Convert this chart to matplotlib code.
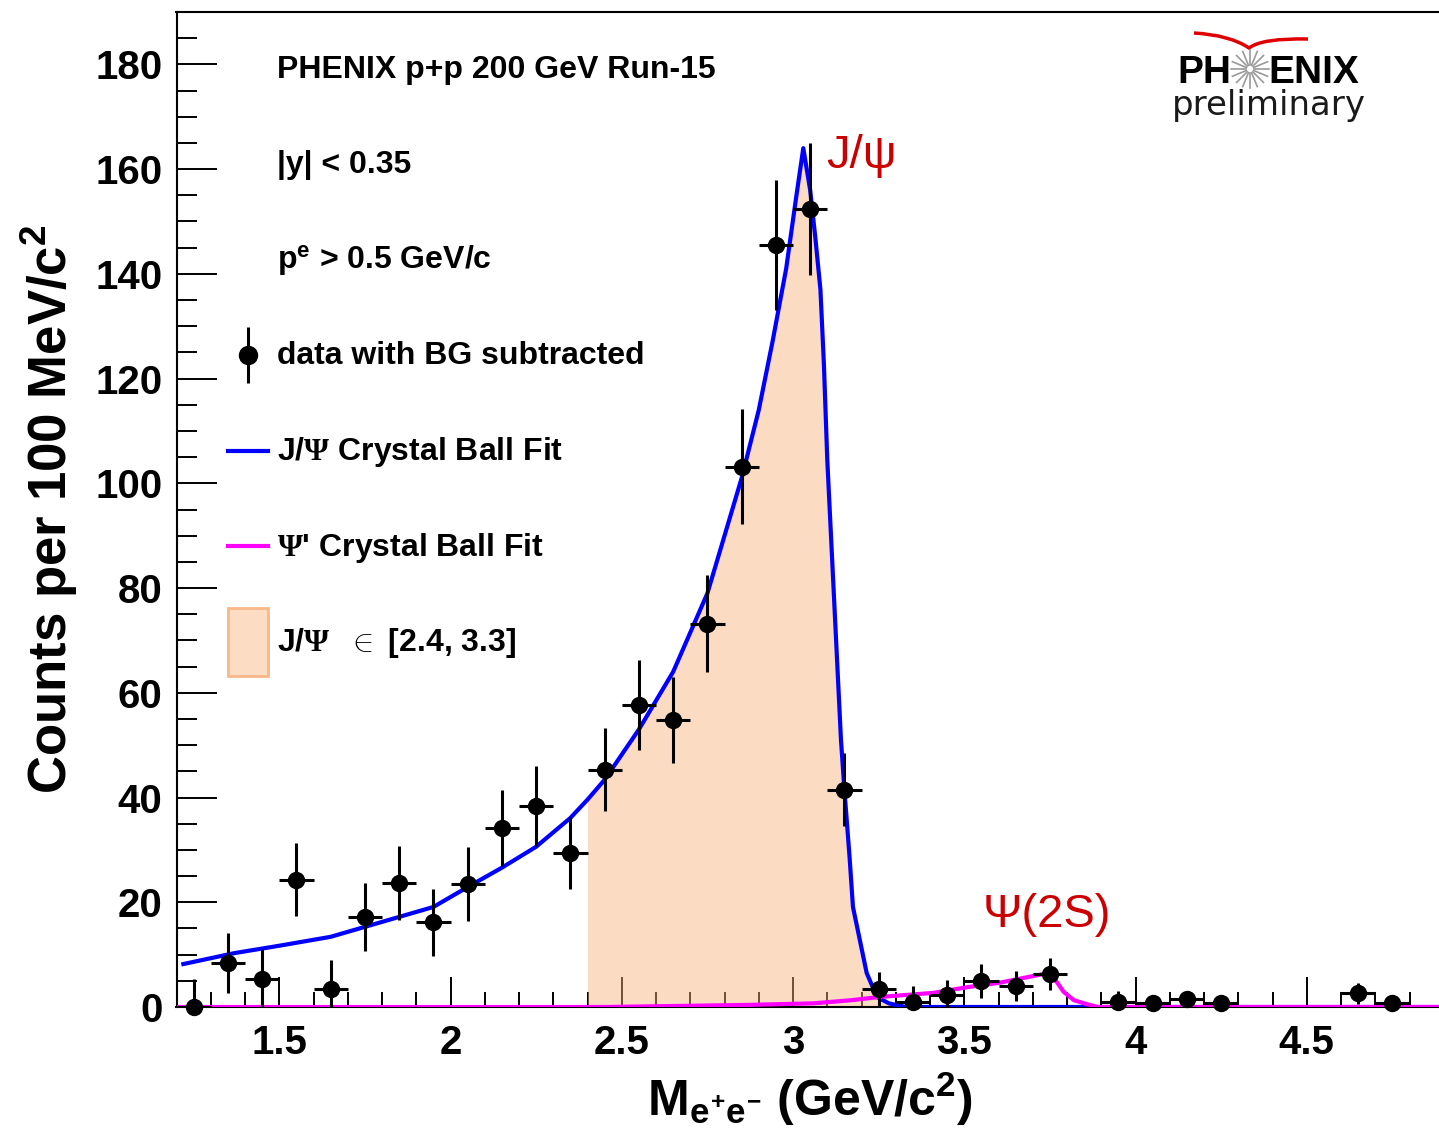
import numpy as np
import matplotlib.pyplot as plt
from matplotlib.lines import Line2D
from matplotlib.patches import Patch, PathPatch
from matplotlib.path import Path
from matplotlib.legend_handler import HandlerTuple, HandlerLine2D
from matplotlib.ticker import MultipleLocator, FuncFormatter

# dielectron invariant mass bins (GeV/c^2), BG-subtracted counts and errors
bin_centers = [1.25, 1.35, 1.45, 1.55, 1.65, 1.75, 1.85, 1.95, 2.05, 2.15,
               2.25, 2.35, 2.45, 2.55, 2.65, 2.75, 2.85, 2.95, 3.05, 3.15,
               3.25, 3.35, 3.45, 3.55, 3.65, 3.75, 3.95, 4.05, 4.15, 4.25,
               4.65, 4.75]
counts = [0.0, 8.4, 5.3, 24.3, 3.4, 17.2, 23.7, 16.2, 23.5, 34.2,
          38.4, 29.4, 45.3, 57.7, 54.8, 73.2, 103.2, 145.5, 152.3, 41.5,
          3.4, 1.0, 2.3, 5.0, 4.0, 6.3, 1.0, 0.8, 1.5, 0.7,
          2.6, 0.7]
count_err = [5.3, 5.8, 5.8, 7.0, 5.6, 6.5, 7.0, 6.4, 7.0, 7.3,
             7.6, 6.9, 7.9, 8.6, 8.3, 9.3, 11.0, 12.4, 12.6, 7.0,
             3.3, 3.0, 2.9, 3.2, 2.9, 3.1, 2.0, 1.5, 1.5, 1.3,
             2.0, 1.5]
bin_half_width = 0.05

# J/psi crystal ball fit
jpsi_fit_mass = [1.22, 1.37, 1.50, 1.65, 1.75, 1.85, 1.95, 2.05, 2.15, 2.25,
                 2.35, 2.40, 2.45, 2.55, 2.65, 2.75, 2.85, 2.90, 2.94, 2.98,
                 3.01, 3.03, 3.05, 3.065, 3.08, 3.09, 3.10, 3.14, 3.15, 3.165,
                 3.175, 3.195, 3.215, 3.245, 3.28, 3.30, 3.33, 4.90]
jpsi_fit_counts = [8.2, 10.3, 11.7, 13.4, 15.3, 17.2, 19.1, 22.9, 26.6, 30.6,
                   36.1, 39.6, 43.4, 53.0, 64.0, 79.0, 101.0, 114.0, 127.0, 141.0,
                   155.0, 164.0, 156.0, 147.0, 137.0, 123.0, 104.5, 51.0, 41.5, 28.7,
                   19.1, 12.8, 6.5, 1.9, 0.7, 0.4, 0.0, 0.0]

# psi(2S) crystal ball fit
psi2s_fit_mass = [1.20, 2.45, 2.87, 3.06, 3.17, 3.25, 3.35, 3.41, 3.51, 3.60,
                  3.70, 3.74, 3.77, 3.79, 3.82, 3.86, 3.89, 4.90]
psi2s_fit_counts = [0.0, 0.0, 0.4, 0.7, 1.3, 1.9, 2.4, 2.7, 3.8, 4.6,
                    5.9, 6.4, 4.8, 2.9, 1.3, 0.5, 0.0, 0.0]

jpsi_window = (2.4, 3.3)

plt.rcParams['font.family'] = ['Liberation Sans', 'DejaVu Sans']
plt.rcParams['font.weight'] = 'bold'
plt.rcParams['axes.labelweight'] = 'bold'
plt.rcParams['mathtext.fontset'] = 'custom'
plt.rcParams['mathtext.rm'] = 'Liberation Sans:bold'
plt.rcParams['mathtext.it'] = 'Liberation Sans:bold'
plt.rcParams['mathtext.bf'] = 'Liberation Sans:bold'
plt.rcParams['mathtext.sf'] = 'Liberation Serif'

W, H = 1439, 1129
fig = plt.figure(figsize=(W / 100, H / 100), dpi=100)
ax = fig.add_axes([176.5 / W, (H - 1007) / H, 1267.3 / W, 995 / H])


def px(x, y):
    # pixel position (from top-left) -> figure fraction
    return x / W, 1 - y / H


class CenteredLine(HandlerLine2D):
    # put line/marker handles in the middle of the (tall) legend row
    def create_artists(self, legend, orig_handle, xdescent, ydescent,
                       width, height, fontsize, trans):
        return super().create_artists(legend, orig_handle, xdescent,
                                      2 * ydescent, width, height,
                                      fontsize, trans)


m = np.array(jpsi_fit_mass)
c = np.array(jpsi_fit_counts)
sel = (m >= jpsi_window[0]) & (m <= jpsi_window[1])
ax.fill_between(m[sel], c[sel], color='#f7b27a', alpha=0.45, lw=0, zorder=2)

ax.plot(jpsi_fit_mass, jpsi_fit_counts, color='#0000ff', lw=3, zorder=3)
ax.plot(psi2s_fit_mass, psi2s_fit_counts, color='#ff00ff', lw=3, zorder=3.5)

eb = ax.errorbar(bin_centers, counts, xerr=bin_half_width, yerr=count_err,
                 fmt='o', color='k', ms=11.5, elinewidth=2.2, capsize=0, zorder=5)
eb[0].set_clip_on(False)

ax.set_xlim(1.2, 4.9)
ax.set_ylim(0, 190)
ax.xaxis.set_major_locator(MultipleLocator(0.5))
ax.xaxis.set_minor_locator(MultipleLocator(0.1))
ax.yaxis.set_major_locator(MultipleLocator(20))
ax.yaxis.set_minor_locator(MultipleLocator(5))
ax.xaxis.set_major_formatter(FuncFormatter(lambda v, p: f'{v:g}'))

ax.tick_params(axis='x', which='major', direction='in', length=21.6, width=1.4,
               labelsize=29, pad=12)
ax.tick_params(axis='x', which='minor', direction='in', length=10.8, width=1.4)
ax.tick_params(axis='y', which='major', direction='in', length=28.8, width=1.4,
               labelsize=29, pad=10)
ax.tick_params(axis='y', which='minor', direction='in', length=14.4, width=1.4)
ax.spines['right'].set_visible(False)
for s in ['left', 'top', 'bottom']:
    ax.spines[s].set_linewidth(1.5)

ax.set_xlabel(r'M$_{e^{+}e^{-}}$ (GeV/c$^{2}$)', fontsize=36, labelpad=6)
ax.set_ylabel(r'Counts per 100 MeV/c$^{2}$', fontsize=38, labelpad=11)

# legend, including the three header lines
blank = Patch(facecolor='none', edgecolor='none')
data_h = (Line2D([], [], ls='', marker='|', ms=41, mew=2.2, color='k'),
          Line2D([], [], ls='', marker='o', ms=13, color='k'))
jpsi_h = Line2D([], [], color='#0000ff', lw=3)
psi_h = Line2D([], [], color='#ff00ff', lw=3)
fill_h = Patch(facecolor='#fcdcc2', edgecolor='#f9b887', lw=2)
handles = [blank, blank, blank, data_h, jpsi_h, psi_h, fill_h]
labels = ['PHENIX p+p 200 GeV Run-15',
          '|y| < 0.35',
          r'p$^{e}$ > 0.5 GeV/c',
          'data with BG subtracted',
          r'J/$\mathsf{\Psi}$ Crystal Ball Fit',
          r"$\mathsf{\Psi}$' Crystal Ball Fit",
          r'J/$\mathsf{\Psi}$  $\in$ [%.1f, %.1f]' % jpsi_window]
ax.legend(handles, labels, loc='upper left', bbox_to_anchor=(0.0406, 0.9774),
          frameon=False, borderpad=0, borderaxespad=0, handlelength=1.25,
          handleheight=2.9, handletextpad=0.28, labelspacing=0.86,
          prop=dict(family='Liberation Sans', weight='bold', size=23),
          handler_map={tuple: HandlerTuple(ndivide=1), Line2D: CenteredLine()})

ax.text(3.096, 160.3, 'J/ψ', color='#cc0000', fontsize=34, fontweight='normal',
        va='baseline')
ax.text(3.554, 15.3, 'Ψ(2S)', color='#cc0000', fontsize=34, fontweight='normal',
        va='baseline')

# PHENIX logo
fig.text(*px(1177, 83), 'PH', fontsize=28, fontweight='bold', va='baseline')
fig.text(*px(1268, 83), 'ENIX', fontsize=28, fontweight='bold', va='baseline')
cx, cy = 1250, 69
for ang in np.linspace(0, 2 * np.pi, 16, endpoint=False):
    x0, y0 = px(cx + 4 * np.cos(ang), cy + 4 * np.sin(ang))
    x1, y1 = px(cx + 19 * np.cos(ang), cy + 19 * np.sin(ang))
    fig.add_artist(Line2D([x0, x1], [y0, y1], color='#9a9a9a', lw=1.2,
                          transform=fig.transFigure))
swoosh = Path([px(1194, 33), px(1230, 35), px(1249, 48),
               px(1262, 38), px(1308, 39)],
              [Path.MOVETO, Path.CURVE3, Path.CURVE3, Path.CURVE3, Path.CURVE3])
fig.add_artist(PathPatch(swoosh, fill=False, edgecolor='#e00000', lw=2.5,
                         transform=fig.transFigure))
fig.text(*px(1269, 115), 'preliminary', fontsize=24.5, family='DejaVu Sans',
         fontweight='normal', ha='center', va='baseline', color='#1a1a1a')

fig.savefig('out.png', dpi=100)
